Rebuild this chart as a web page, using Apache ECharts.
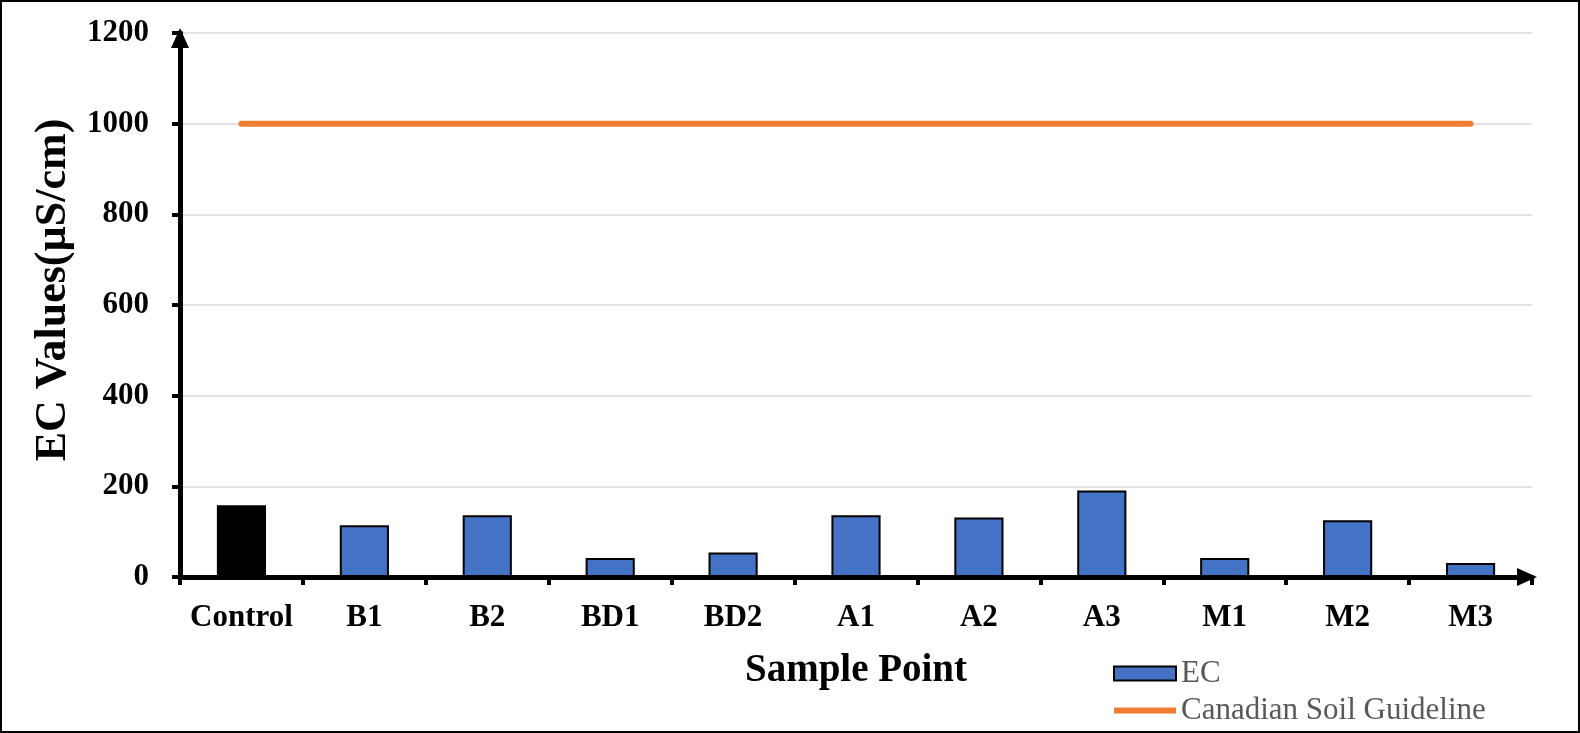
<!DOCTYPE html>
<html>
<head>
<meta charset="utf-8">
<script src="https://cdn.jsdelivr.net/npm/echarts@6/dist/echarts.min.js"></script>
<style>
  html, body { margin: 0; padding: 0; background: #fff; }
  #chart { width: 1580px; height: 733px; }
</style>
</head>
<body>
<div id="chart"></div>
<script>
var myChart = echarts.init(document.getElementById("chart"));

// 数据
var categories = ["Control", "B1", "B2", "BD1", "BD2", "A1", "A2", "A3", "M1", "M2", "M3"];
var ecValues = [158, 114, 136, 42, 54, 136, 131, 191, 42, 125, 31];
var guideline = [1000, 1000, 1000, 1000, 1000, 1000, 1000, 1000, 1000, 1000, 1000];

var serif = "'Liberation Serif', 'Times New Roman', serif";

var barData = ecValues.map(function (v, i) {
	if (i === 0) {
		return { value: v, itemStyle: { color: "#000000" } };
	}
	return v;
});

var option = {
	animation: false,
	backgroundColor: "#ffffff",
	textStyle: { fontFamily: serif },
	grid: {
		left: 180,
		right: 48,
		top: 33,
		bottom: 156
	},
	legend: {
		orient: "vertical",
		left: 1108,
		top: 653,
		itemWidth: 62,
		itemHeight: 14,
		itemGap: 6,
		textStyle: {
			fontFamily: serif,
			fontSize: 31,
			color: "#595959"
		},
		data: [
			{
				name: "EC",
				icon: "rect",
				itemStyle: { color: "#4472C4", borderColor: "#000", borderWidth: 2 }
			},
			{
				name: "Canadian Soil Guideline",
				icon: "path://M0,0 L62,0 L62,6 L0,6 Z",
				itemStyle: { color: "#ED7D31", borderWidth: 0 }
			}
		]
	},
	graphic: [
		{
			type: "rect",
			shape: { x: 1, y: 1, width: 1578, height: 731 },
			style: { fill: "none", stroke: "#000", lineWidth: 2 },
			silent: true
		}
	],
	xAxis: {
		type: "category",
		data: categories,
		name: "Sample Point",
		nameLocation: "middle",
		nameGap: 74,
		nameTextStyle: {
			fontFamily: serif,
			fontSize: 39,
			fontWeight: "bold",
			color: "#000"
		},
		axisLine: {
			lineStyle: { color: "#000", width: 5 },
			symbol: ["none", "triangle"],
			symbolSize: [18, 20],
			symbolOffset: [0, -5]
		},
		axisTick: {
			show: true,
			interval: 0,
			length: 8,
			lineStyle: { color: "#000", width: 4 }
		},
		axisLabel: {
			interval: 0,
			margin: 25,
			fontFamily: serif,
			fontSize: 31,
			fontWeight: "bold",
			color: "#000"
		}
	},
	yAxis: {
		type: "value",
		min: 0,
		max: 1200,
		interval: 200,
		name: "EC Values(µS/cm)",
		nameLocation: "middle",
		nameGap: 99,
		nameTextStyle: {
			fontFamily: serif,
			fontSize: 44,
			fontWeight: "bold",
			color: "#000",
			padding: [0, 0, 0, 30]
		},
		axisLine: {
			show: true,
			lineStyle: { color: "#000", width: 5 },
			symbol: ["none", "triangle"],
			symbolSize: [18, 20],
			symbolOffset: [0, -5]
		},
		axisTick: {
			show: true,
			length: 8,
			lineStyle: { color: "#000", width: 4 }
		},
		axisLabel: {
			margin: 31,
			fontFamily: serif,
			fontSize: 31,
			fontWeight: "bold",
			color: "#000",
			formatter: function (v) { return String(v); }
		},
		splitLine: {
			lineStyle: { color: "#d9d9d9", width: 1.5 }
		}
	},
	series: [
		{
			name: "EC",
			type: "bar",
			barWidth: "40%",
			itemStyle: {
				color: "#4472C4",
				borderColor: "#000",
				borderWidth: 2
			},
			data: barData
		},
		{
			name: "Canadian Soil Guideline",
			type: "line",
			symbol: "none",
			showSymbol: false,
			lineStyle: { color: "#ED7D31", width: 6, cap: "round" },
			itemStyle: { color: "#ED7D31" },
			data: guideline
		}
	]
};

myChart.setOption(option);

window.addEventListener("resize", function () {
	myChart.resize();
});
</script>
</body>
</html>
